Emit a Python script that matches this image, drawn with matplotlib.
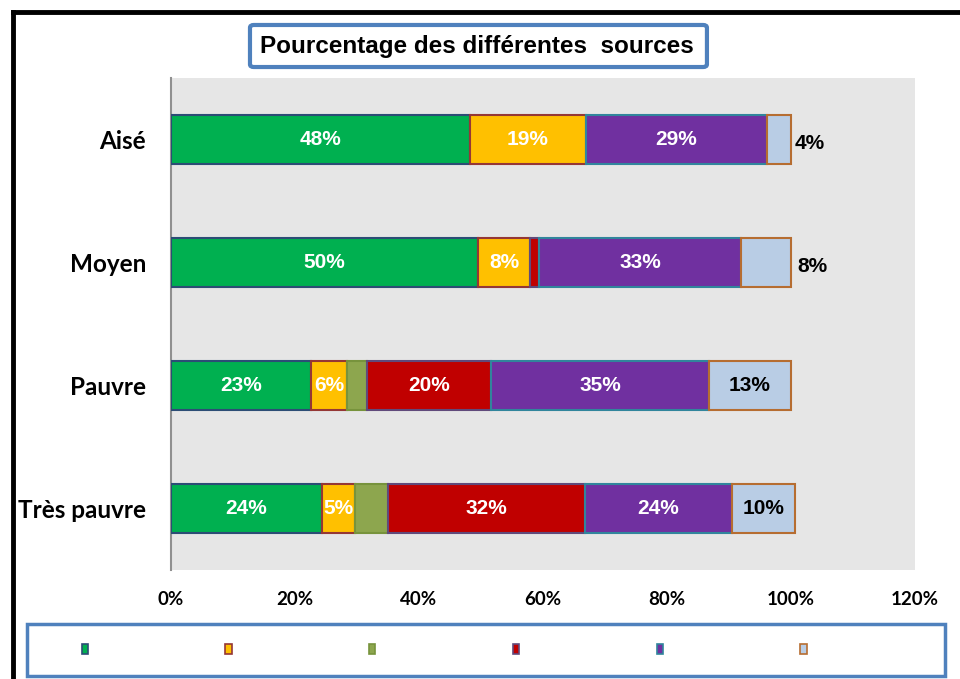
import numpy as np
import matplotlib
matplotlib.use("Agg")
import matplotlib.pyplot as plt
from matplotlib.patches import Rectangle, FancyBboxPatch, Patch
from matplotlib.lines import Line2D

# data (percent)
categories = ["Aisé", "Moyen", "Pauvre", "Très pauvre"]
green = [48.2, 49.5, 22.6, 24.4]
yellow = [18.7, 8.5, 5.8, 5.3]
olive = [0.0, 0.0, 3.2, 5.3]
red = [0.0, 1.3, 20.0, 31.8]
purple = [29.2, 32.7, 35.2, 23.7]
lightblue = [3.9, 8.0, 13.2, 10.2]

series = [green, yellow, olive, red, purple, lightblue]
fills = ["#00b050", "#ffc000", "#8da64e", "#c00000", "#7030a0", "#b9cde5"]
edges = ["#2c4d75", "#953735", "#77933c", "#604a7b", "#31859c", "#b66d31"]
label_col = ["white", "white", None, "white", "white", "black"]
outside = ["Aisé", "Moyen"]   # these light-blue labels sit right of the bar

fig = plt.figure(figsize=(9.6, 6.79), dpi=100)
ax = fig.add_axes([0.178, 0.1605, 0.775, 0.7245])
ax.set_facecolor("#e6e6e6")

y = np.arange(len(categories))
left = np.zeros(len(categories))
for vals, fc, ec, lc in zip(series, fills, edges, label_col):
    vals = np.array(vals)
    m = vals > 0
    ax.barh(y[m], vals[m], left=left[m], height=0.4, color=fc,
            edgecolor=ec, linewidth=1.5, zorder=3)
    for i in np.where(m)[0]:
        if lc is None or vals[i] < 2:
            continue
        txt = "%.0f%%" % vals[i]
        if lc == "black" and categories[i] in outside:
            ax.text(left[i] + vals[i] + 0.6 + 0.5 * i, y[i] + 0.03, txt,
                    ha="left", va="center", color="black", fontsize=15,
                    fontweight="bold", family="Liberation Sans", zorder=4)
        else:
            ax.text(left[i] + vals[i] / 2, y[i], txt, ha="center",
                    va="center", color=lc, fontsize=15, fontweight="bold",
                    family="Liberation Sans", zorder=4)
    left = left + vals

ax.set_xlim(0, 120)
ax.set_ylim(3.5, -0.5)
ax.set_yticks(y)
ax.set_yticklabels(categories, fontsize=17.5, fontweight="bold", family="Lato")
ax.set_xticks(np.arange(0, 121, 20))
ax.set_xticklabels(["%d%%" % v for v in range(0, 121, 20)], fontsize=13.5,
                   fontweight="bold", family="Lato")
ax.tick_params(axis="x", length=0, pad=15)
ax.tick_params(axis="y", length=0, pad=18)
for s in ["top", "right", "bottom"]:
    ax.spines[s].set_visible(False)
ax.spines["left"].set_color("#909090")
ax.spines["left"].set_linewidth(1.5)

# title box
fig.patches.append(FancyBboxPatch((0.2604, 0.9013), 0.476, 0.0619,
                                  boxstyle="round,pad=0,rounding_size=0.004",
                                  transform=fig.transFigure, facecolor="white",
                                  edgecolor="#4f81bd", linewidth=3))
fig.text(0.497, 0.931, "Pourcentage des différentes  sources", ha="center",
         va="center", fontsize=17.5, fontweight="bold",
         family="Liberation Sans")

# legend box with empty entries
fig.patches.append(Rectangle((0.028, 0.0044), 0.956, 0.0766,
                             transform=fig.transFigure, facecolor="white",
                             edgecolor="#4f81bd", linewidth=2.5))
handles = [Patch(facecolor=fc, edgecolor=ec, linewidth=1.2)
           for fc, ec in zip(fills, edges)]
fig.legend(handles, [""] * 6, ncol=6, frameon=False, loc="center left",
           bbox_to_anchor=(0.085, 0.0427), borderpad=0, borderaxespad=0,
           handlelength=0.45, handleheight=0.7, handletextpad=0.8,
           columnspacing=9.1, fontsize=10)

# black outer frame (left and top)
fig.lines.append(Line2D([0.0135, 0.0135], [0, 0.983], color="black",
                        linewidth=3.5, transform=fig.transFigure))
fig.lines.append(Line2D([0.0135, 1.0], [0.983, 0.983], color="black",
                        linewidth=3.5, transform=fig.transFigure))

fig.savefig("out.png", dpi=100)
